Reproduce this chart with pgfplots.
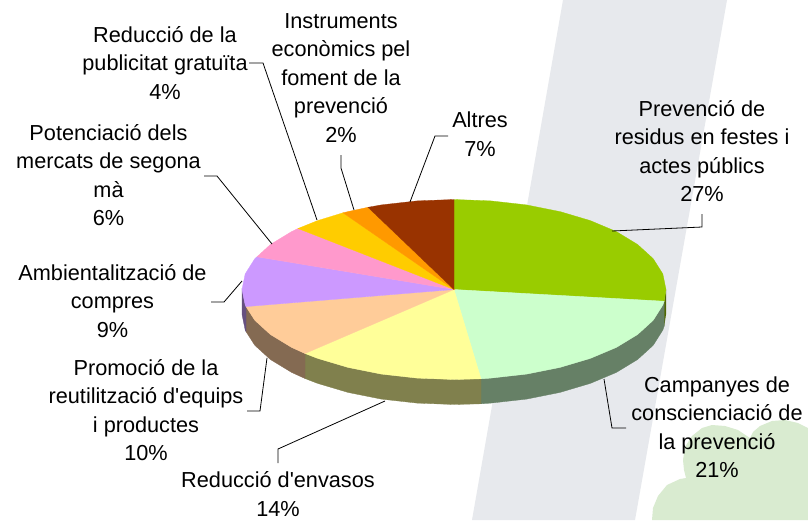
\documentclass[border=0pt]{standalone}
\usepackage{fontspec}
\newfontfamily\labfont{Liberation Sans}
\usepackage{pgfplots}
\pgfplotsset{compat=1.18}
\definecolor{bgg}{HTML}{E7E9ED}
\definecolor{blob}{HTML}{D9EBD0}
\definecolor{s1}{HTML}{99CC00}
\definecolor{s2}{HTML}{CCFFCC}
\definecolor{s3}{HTML}{FFFF99}
\definecolor{s4}{HTML}{FFCC99}
\definecolor{s5}{HTML}{CC99FF}
\definecolor{s6}{HTML}{FF99CC}
\definecolor{s7}{HTML}{FFCC00}
\definecolor{s8}{HTML}{FF9900}
\definecolor{s9}{HTML}{993300}
\definecolor{d1}{HTML}{4F6600}
\definecolor{d2}{HTML}{668066}
\definecolor{d3}{HTML}{80804D}
\definecolor{d4}{HTML}{846A52}
\definecolor{d5}{HTML}{665080}
\tikzset{
  lab/.style={font=\labfont\fontsize{21.7}{28.5}\selectfont, align=center, inner sep=0pt, text=black},
  lead/.style={black, line width=0.8pt, mark=none},
}
\begin{document}
\begin{tikzpicture}
\begin{axis}[
  scale only axis, width=808pt, height=520pt,
  xmin=0, xmax=808, ymin=0, ymax=520, y dir=reverse,
  hide axis, clip=true,
]
% background
\addplot[fill=white, draw=none] coordinates {(0,0)(808,0)(808,520)(0,520)} -- cycle;
\addplot[fill=bgg, draw=none] coordinates {(563,0)(727,0)(635,520)(472,520)} -- cycle;
\addplot[fill=blob, draw=none] coordinates {(652,520)(653,508)(658,496)(667,485)(680,479)(686,478)(684,470)(683,460)(685,447)(692,436)(702,428)(712,425)(725,426)(738,430)(750,438)(753,432)(760,426)(772,421)(785,420)(798,423)(808,428)(808,520)} -- cycle;
% sides
\addplot[fill=d1, draw=none] coordinates {(666,289.5)(664.2,301.2)(664.2,326.2)(666,314.5)} -- cycle;
\addplot[fill=d2, draw=d2, line width=0.3pt] coordinates {(664.2,301.2)(662.8,305.1)(653.2,320.3)(637.6,334.5)(616.4,347.4)(590.3,358.4)(560,367.4)(526.5,374.1)(490.8,378.1)(481,378.8)(481,403.8)(490.8,403.1)(526.5,399.1)(560,392.4)(590.3,383.4)(616.4,372.4)(637.6,359.5)(653.2,345.3)(662.8,330.1)(664.2,326.2)} -- cycle;
\addplot[fill=d3, draw=d3, line width=0.3pt] coordinates {(481,378.8)(454,379.5)(417.2,378.1)(381.5,374.1)(348,367.4)(317.7,358.4)(305,353.5)(305,378.5)(317.7,383.4)(348,392.4)(381.5,399.1)(417.2,403.1)(454,404.5)(481,403.8)} -- cycle;
\addplot[fill=d4, draw=d4, line width=0.3pt] coordinates {(305,353.5)(291.6,347.4)(270.4,334.5)(254.8,320.3)(246,306.6)(246,331.6)(254.8,345.3)(270.4,359.5)(291.6,372.4)(305,378.5)} -- cycle;
\addplot[fill=d5, draw=d5, line width=0.3pt] coordinates {(246,306.6)(245.2,305.1)(242,289.5)(242,314.5)(245.2,330.1)(246,331.6)} -- cycle;
% tops
\addplot[fill=s1, draw=s1, line width=0.3pt] coordinates {(454,289.5)(664.2,301.2)(666,289.5)(662.8,273.9)(653.2,258.7)(637.6,244.5)(616.4,231.6)(590.3,220.6)(560,211.6)(526.5,204.9)(490.8,200.9)(454,199.5)} -- cycle;
\addplot[fill=s2, draw=s2, line width=0.3pt] coordinates {(454,289.5)(481,378.8)(490.8,378.1)(526.5,374.1)(560,367.4)(590.3,358.4)(616.4,347.4)(637.6,334.5)(653.2,320.3)(662.8,305.1)(664.2,301.2)} -- cycle;
\addplot[fill=s3, draw=s3, line width=0.3pt] coordinates {(454,289.5)(305,353.5)(317.7,358.4)(348,367.4)(381.5,374.1)(417.2,378.1)(454,379.5)(481,378.8)} -- cycle;
\addplot[fill=s4, draw=s4, line width=0.3pt] coordinates {(454,289.5)(246,306.6)(254.8,320.3)(270.4,334.5)(291.6,347.4)(305,353.5)} -- cycle;
\addplot[fill=s5, draw=s5, line width=0.3pt] coordinates {(454,289.5)(257,256.8)(254.8,258.7)(245.2,273.9)(242,289.5)(245.2,305.1)(246,306.6)} -- cycle;
\addplot[fill=s6, draw=s6, line width=0.3pt] coordinates {(454,289.5)(298,228.5)(291.6,231.6)(270.4,244.5)(257,256.8)} -- cycle;
\addplot[fill=s7, draw=s7, line width=0.3pt] coordinates {(454,289.5)(343,212.8)(317.7,220.6)(298,228.5)} -- cycle;
\addplot[fill=s8, draw=s8, line width=0.3pt] coordinates {(454,289.5)(368,207.3)(348,211.6)(343,212.8)} -- cycle;
\addplot[fill=s9, draw=s9, line width=0.3pt] coordinates {(454,289.5)(454,199.5)(417.2,200.9)(381.5,204.9)(368,207.3)} -- cycle;
% leaders
\addplot[lead] coordinates {(612,231)(702,227)(702,214)};
\addplot[lead] coordinates {(604,379)(612,428)(626,428)};
\addplot[lead] coordinates {(385,401)(278,449)(278,463)};
\addplot[lead] coordinates {(267,358)(260,411)(247,411)};
\addplot[lead] coordinates {(242,281)(224,302)(211,302)};
\addplot[lead] coordinates {(272,244)(217,176)(204,176)};
\addplot[lead] coordinates {(317,220)(263,63)(249,63)};
\addplot[lead] coordinates {(354,210)(341,168)(341,155)};
\addplot[lead] coordinates {(410,202)(435,136)(448,136)};
% labels
\node[lab] at (axis cs:702,151) {Prevenció de\\residus en festes i\\actes públics\\27\%};
\node[lab] at (axis cs:717,427) {Campanyes de\\conscienciació de\\la prevenció\\21\%};
\node[lab] at (axis cs:278,494) {Reducció d'envasos\\14\%};
\node[lab] at (axis cs:146,410) {Promoció de la\\reutilització d'equips\\i productes\\10\%};
\node[lab] at (axis cs:112.5,301) {Ambientalització de\\compres\\9\%};
\node[lab] at (axis cs:108.5,175) {Potenciació dels\\mercats de segona\\mà\\6\%};
\node[lab] at (axis cs:165,63) {Reducció de la\\publicitat gratuïta\\4\%};
\node[lab] at (axis cs:341,78) {Instruments\\econòmics pel\\foment de la\\prevenció\\2\%};
\node[lab] at (axis cs:480,134) {Altres\\7\%};
\end{axis}
\end{tikzpicture}
\end{document}
